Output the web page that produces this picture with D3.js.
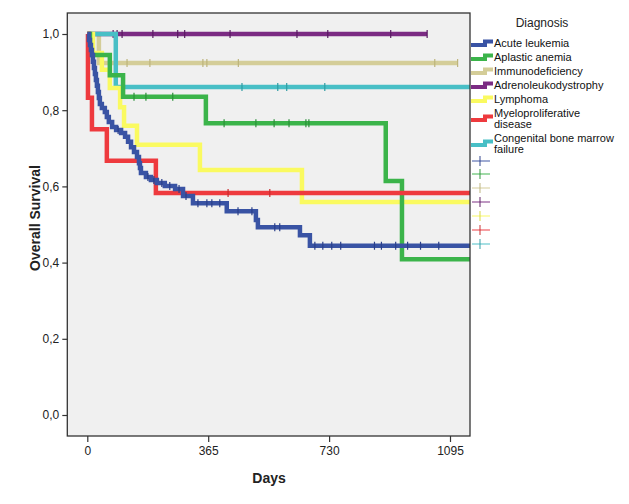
<!DOCTYPE html>
<html><head><meta charset="utf-8">
<script src="https://cdn.jsdelivr.net/npm/d3@7"></script>
<style>body{margin:0;background:#fff;} svg{display:block;font-family:"Liberation Sans",Arial,sans-serif;}</style>
</head><body>
<svg id="c" width="629" height="504"></svg>
<script>
const categories = ["Acute leukemia","Aplastic anemia","Immunodeficiency","Adrenoleukodystrophy","Lymphoma","Myeloproliferative disease","Congenital bone marrow failure"];
const colors = ["#3953a4","#3bb44a","#d4cd98","#7b2b83","#fafa60","#ee3a3e","#48bfc6"];
const markColors = ["#2a3f8a","#2a9038","#bdb47c","#5a1a62","#d8d840","#c82a2e","#2f9ca3"];
const xTicks = [0,365,730,1095];
const yTicks = [0,0.2,0.4,0.6,0.8,1.0];

// Acute leukemia
const acuteTimes = [0,5,8,11,14,17,20,23,26,29,32,35,38,44,53,59,65,75,87,102,114,123,132,141,150,156,159,162,177,192,210,234,265,289,319,421,509,515,642,672];
const acuteSurv = [1,.984,.971,.958,.945,.927,.911,.895,.879,.864,.848,.832,.816,.806,.795,.782,.769,.756,.748,.740,.730,.717,.703,.690,.677,.661,.648,.635,.625,.617,.609,.601,.593,.575,.556,.535,.512,.493,.472,.444];
const acuteCensor = [93,183,201,225,249,277,298,334,361,376,400,455,497,566,581,687,711,738,765,867,888,931,967,1006,1061];
const acuteEnd = 1160;
// Aplastic anemia
const aplasticTimes = [0,8,68,108,358,901,950];
const aplasticSurv = [1,.945,.892,.835,.766,.614,.409];
const aplasticCensor = [141,177,258,413,509,564,609,660,669];
const aplasticEnd = 1160;
// Immunodeficiency
const immunoTimes = [0,35];
const immunoSurv = [1,.924];
const immunoCensor = [120,189,349,361,456,1049,1118];
const immunoEnd = 1118;
// Adrenoleukodystrophy
const adrenoTimes = [0];
const adrenoSurv = [1];
const adrenoCensor = [78,90,105,198,273,294,431,633,726,916,1026];
const adrenoEnd = 1026;
// Lymphoma
const lymphTimes = [0,17,44,68,99,111,150,340,648];
const lymphSurv = [1,.950,.906,.858,.808,.759,.709,.643,.559];
const lymphCensor = [];
const lymphEnd = 1160;
// Myeloproliferative disease
const myeloTimes = [0,2,14,59,207];
const myeloSurv = [1,.833,.750,.667,.583];
const myeloCensor = [425,551];
const myeloEnd = 1160;
// Congenital bone marrow failure
const congTimes = [0,86];
const congSurv = [1,.861];
const congCensor = [467,575,602,717];
const congEnd = 1160;

const series = [
  {t:acuteTimes,s:acuteSurv,c:acuteCensor,e:acuteEnd},
  {t:aplasticTimes,s:aplasticSurv,c:aplasticCensor,e:aplasticEnd},
  {t:immunoTimes,s:immunoSurv,c:immunoCensor,e:immunoEnd},
  {t:adrenoTimes,s:adrenoSurv,c:adrenoCensor,e:adrenoEnd},
  {t:lymphTimes,s:lymphSurv,c:lymphCensor,e:lymphEnd},
  {t:myeloTimes,s:myeloSurv,c:myeloCensor,e:myeloEnd},
  {t:congTimes,s:congSurv,c:congCensor,e:congEnd}
];

const svg = d3.select("#c");
const L = 67.3, R = 470, T = 13, B = 436;
const x = d3.scaleLinear().domain([0,1095]).range([87.3,450]);
const y = d3.scaleLinear().domain([0,1]).range([415,34]);

svg.append("defs").append("clipPath").attr("id","clip")
  .append("rect").attr("x",L).attr("y",T).attr("width",R-L).attr("height",B-T);

svg.append("rect").attr("x",L).attr("y",T).attr("width",R-L).attr("height",B-T).attr("fill","#f0f0f0");

const g = svg.append("g").attr("clip-path","url(#clip)");
const line = d3.line().x(d=>x(d[0])).y(d=>y(d[1])).curve(d3.curveStepAfter);
const survAt = (d,t)=>{let v=1; for(let k=0;k<d.t.length;k++){ if(d.t[k]<=t) v=d.s[k]; } return v;};

const drawOrder = [2,3,6,4,1,5,0];
drawOrder.forEach(i=>{
  const d = series[i];
  const pts = d.t.map((t,k)=>[t,d.s[k]]);
  pts.push([d.e, d.s[d.s.length-1]]);
  g.append("path").attr("d",line(pts)).attr("fill","none")
    .attr("stroke",colors[i]).attr("stroke-width",4.5).attr("stroke-linejoin","miter").attr("stroke-linecap","butt");
  g.selectAll(null).data(d.c).enter().append("line")
    .attr("x1",t=>x(t)).attr("x2",t=>x(t))
    .attr("y1",t=>y(survAt(d,t))-4).attr("y2",t=>y(survAt(d,t))+4)
    .attr("stroke",markColors[i]).attr("stroke-width",1.2);
});

// frame
svg.append("rect").attr("x",L).attr("y",T).attr("width",R-L).attr("height",B-T)
  .attr("fill","none").attr("stroke","#333").attr("stroke-width",1.3);

// axes
const xa = svg.append("g").attr("transform",`translate(0,${B})`)
  .call(d3.axisBottom(x).tickValues(xTicks).tickSize(6).tickPadding(4).tickFormat(d3.format("d")));
const ya = svg.append("g").attr("transform",`translate(${L},0)`)
  .call(d3.axisLeft(y).tickValues(yTicks).tickSize(5).tickPadding(3).tickFormat(v=>d3.format(".1f")(v).replace(".",",")));
[xa,ya].forEach(a=>{
  a.select(".domain").remove();
  a.selectAll("line").attr("stroke","#333").attr("stroke-width",1.2);
  a.selectAll("text").attr("font-size",12).attr("fill","#222").attr("font-family","Liberation Sans, Arial, sans-serif");
});

svg.append("text").attr("x",269).attr("y",483).attr("text-anchor","middle")
  .attr("font-size",14).attr("font-weight","bold").attr("fill","#222").text("Days");
svg.append("text").attr("transform","translate(40,218) rotate(-90)").attr("text-anchor","middle")
  .attr("font-size",14).attr("font-weight","bold").attr("fill","#222").text("Overall Survival");

// legend
svg.append("text").attr("x",542).attr("y",27).attr("text-anchor","middle")
  .attr("font-size",12).attr("fill","#222").text("Diagnosis");
const legendY = [43,57,71,85,99,118,143];
const legendLines = [["Acute leukemia"],["Aplastic anemia"],["Immunodeficiency"],["Adrenoleukodystrophy"],["Lymphoma"],["Myeloproliferative","disease"],["Congenital bone marrow","failure"]];
categories.forEach((c,i)=>{
  const yy = legendY[i];
  svg.append("path").attr("d",`M471,${yy+2}H485V${yy-1.5}H493`).attr("fill","none")
    .attr("stroke",colors[i]).attr("stroke-width",4);
  const lines = legendLines[i];
  const y0 = lines.length===1 ? yy+4 : yy-1.5;
  const tx = svg.append("text").attr("x",494).attr("y",y0).attr("font-size",11).attr("fill","#111");
  lines.forEach((s,k)=>{
    tx.append("tspan").attr("x",494).attr("dy",k===0?0:11).text(s);
  });
});
const crossY = [161,174,188,202,216,230,244];
categories.forEach((c,i)=>{
  const yy = crossY[i];
  svg.append("line").attr("x1",472).attr("x2",490).attr("y1",yy).attr("y2",yy)
    .attr("stroke",colors[i]).attr("stroke-width",1.2).attr("opacity",0.8);
  svg.append("line").attr("x1",480).attr("x2",480).attr("y1",yy-5).attr("y2",yy+5)
    .attr("stroke",markColors[i]).attr("stroke-width",1.2).attr("opacity",0.8);
});
</script>
</body></html>
